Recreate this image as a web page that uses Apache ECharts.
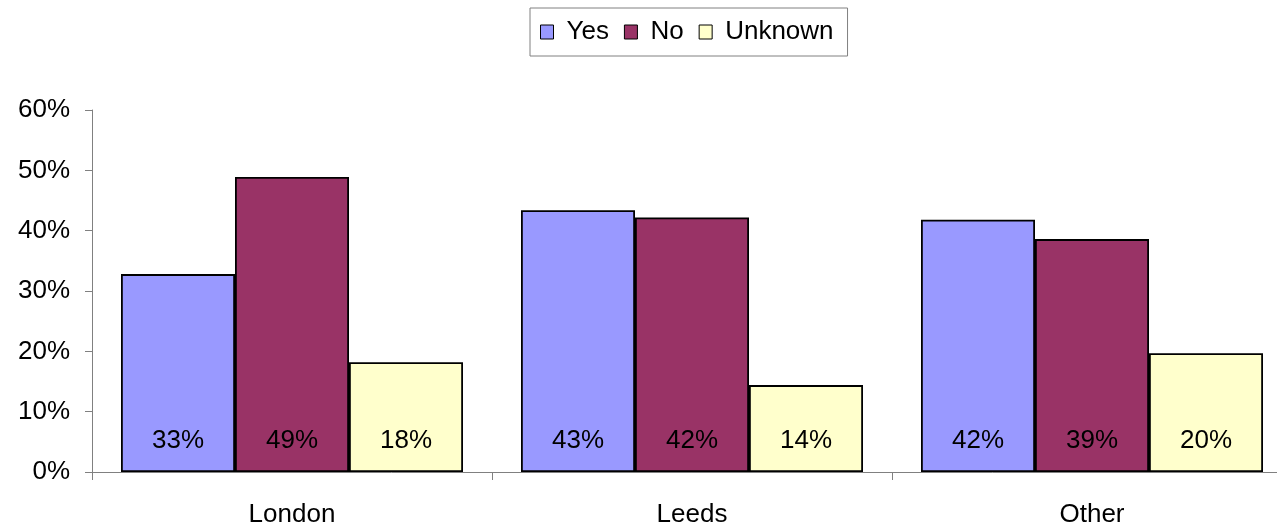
<!DOCTYPE html>
<html>
  <head>
    <meta charset="utf-8">
    <title>echarts</title>
    <script src="https://cdn.jsdelivr.net/npm/echarts@6/dist/echarts.min.js"></script>
  </head>
  <style>
    html,body {
      width: 100%;
      height: 100%;
      margin: 0;
      padding: 0;
      background: #fff;
      overflow: hidden;
    }
    /* the last category runs past the right edge of the window */
    #chart {
      width: 1292px;
      height: 528px;
    }
  </style>
  <body>
    <div id="chart"></div>
  </body>
  <script>
    var categories = ['London', 'Leeds', 'Other'];
    var yesData = [32.8, 43.4, 41.8];
    var noData = [48.9, 42.2, 38.6];
    var unknownData = [18.2, 14.4, 19.7];
    var yTicks = [0, 10, 20, 30, 40, 50, 60];

    var font = 'Liberation Sans, Arial, sans-serif';

    function makeSeries (name, data, color) {
      return {
        type: 'bar',
        name: name,
        data: data,
        barGap: '0%',
        barCategoryGap: '14.5%',
        itemStyle: {
          color: color,
          borderColor: '#000',
          borderWidth: 1.8
        },
        label: {
          show: true,
          position: 'insideBottom',
          distance: 18,
          color: '#000',
          fontSize: 26,
          fontFamily: font,
          formatter: function (p) {
            return Math.round(p.value) + '%';
          }
        },
        emphasis: { disabled: true }
      };
    }

    var option = {
      animation: false,
      legend: {
        top: 8,
        left: 530,
        padding: [11, 14, 11, 10],
        itemGap: 15,
        itemWidth: 13,
        itemHeight: 14,
        borderColor: '#808080',
        borderWidth: 1,
        icon: 'rect',
        textStyle: {
          color: '#000',
          fontSize: 26,
          fontFamily: font,
          padding: [0, 0, 0, 8]
        },
        itemStyle: { borderColor: '#000', borderWidth: 1 },
        data: ['Yes', 'No', 'Unknown']
      },
      grid: {
        left: 92,
        right: 0,
        top: 110,
        bottom: 56,
        containLabel: false
      },
      xAxis: {
        type: 'category',
        data: categories,
        axisLine: { lineStyle: { color: '#808080', width: 1 } },
        axisTick: { show: true, length: 8, lineStyle: { color: '#808080' } },
        axisLabel: { color: '#000', fontSize: 26, fontFamily: font, margin: 30 }
      },
      yAxis: {
        type: 'value',
        min: yTicks[0],
        max: yTicks[yTicks.length - 1],
        interval: 10,
        axisLine: { show: true, lineStyle: { color: '#808080', width: 1 } },
        axisTick: { show: true, length: 7, lineStyle: { color: '#808080' } },
        splitLine: { show: false },
        axisLabel: {
          color: '#000',
          fontSize: 26,
          fontFamily: font,
          margin: 22,
          formatter: '{value}%'
        }
      },
      series: [
        makeSeries('Yes', yesData, '#9999FF'),
        makeSeries('No', noData, '#993366'),
        makeSeries('Unknown', unknownData, '#FFFFCC')
      ]
    };

    var charts = echarts.init(document.getElementById('chart'));
    charts.setOption(option);
  </script>
</html>
